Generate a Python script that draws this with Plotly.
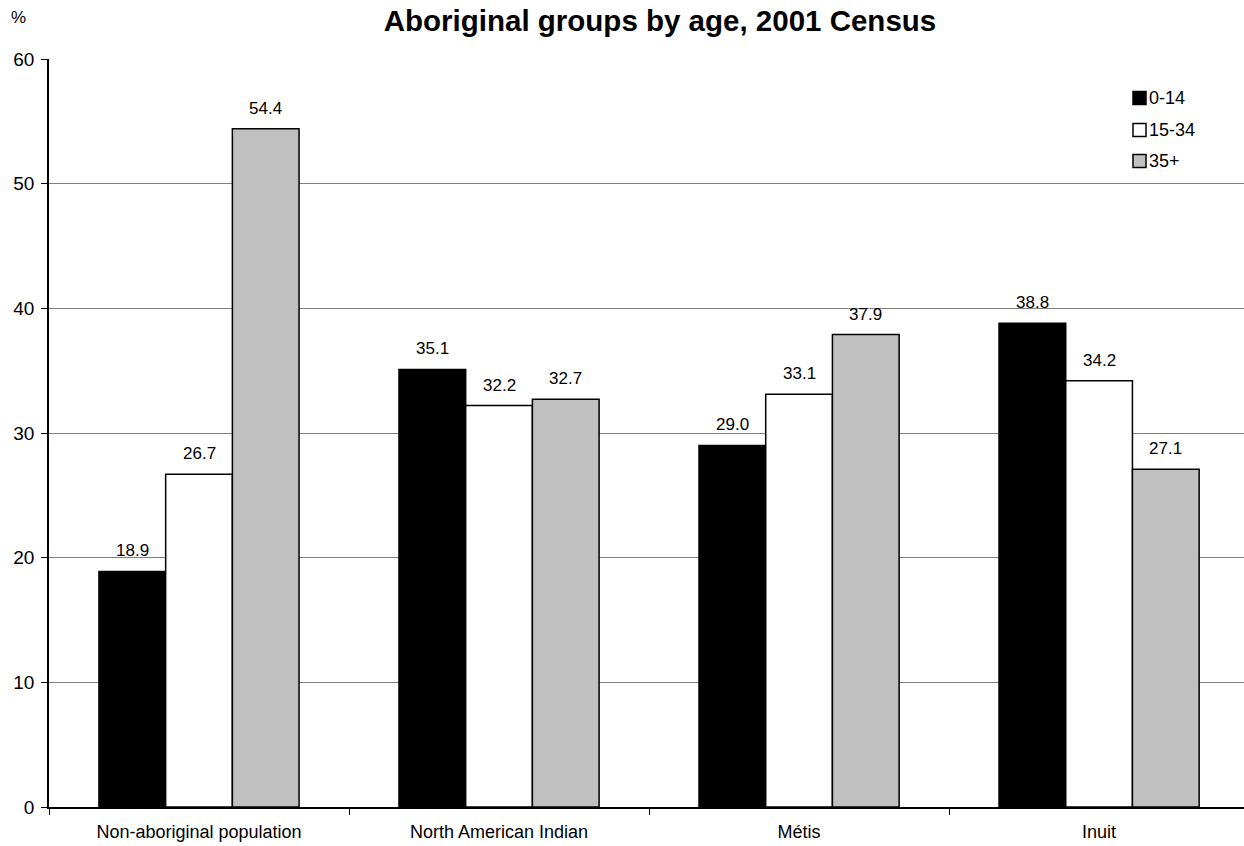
import plotly.graph_objects as go

groups = ["Non-aboriginal population", "North American Indian", "Métis", "Inuit"]
age_0_14 = [18.9, 35.1, 29.0, 38.8]
age_15_34 = [26.7, 32.2, 33.1, 34.2]
age_35_plus = [54.4, 32.7, 37.9, 27.1]
series_names = ["0-14", "15-34", "35+"]
series_colors = ["#000000", "#ffffff", "#c0c0c0"]
y_ticks = [0, 10, 20, 30, 40, 50, 60]

FONT = "Liberation Sans, Arial, sans-serif"
BARGAP = 0.333

# plot-area geometry (pixels) used for the hand-drawn legend
W, H = 1244, 846
ML, MR, MT, MB = 49, 0, 59, 39
PW, PH = W - ML - MR, H - MT - MB


def px_x(px):
    return (px - ML) / PW


def px_y(py):
    return (H - MB - py) / PH


series_values = [age_0_14, age_15_34, age_35_plus]

fig = go.Figure()
for name, vals, color in zip(series_names, series_values, series_colors):
    fig.add_trace(go.Bar(
        x=groups, y=vals, name=name,
        marker=dict(color=color, line=dict(color="#000000", width=1.5)),
        showlegend=False,
    ))

# value labels above each bar
bar_w = (1 - BARGAP) / len(series_values)
for j, vals in enumerate(series_values):
    offset = (j - (len(series_values) - 1) / 2) * bar_w
    for i, v in enumerate(vals):
        fig.add_annotation(
            x=i + offset, y=v, xref="x", yref="y",
            text=f"{v:.1f}", showarrow=False,
            xanchor="center", yanchor="bottom", yshift=9,
            font=dict(family=FONT, size=17, color="#000000"),
        )

# legend: small outlined squares with labels
legend_rows = [98, 130, 161]
for name, color, cy in zip(series_names, series_colors, legend_rows):
    fig.add_shape(
        type="rect", xref="paper", yref="paper",
        x0=px_x(1133), x1=px_x(1146), y0=px_y(cy + 6.5), y1=px_y(cy - 6.5),
        fillcolor=color, line=dict(color="#000000", width=1.5),
    )
    fig.add_annotation(
        text=name, xref="paper", yref="paper", x=px_x(1147), y=px_y(cy),
        xanchor="left", yanchor="middle", showarrow=False,
        font=dict(family=FONT, size=18, color="#000000"),
    )

fig.update_layout(
    width=W, height=H,
    margin=dict(l=ML, r=MR, t=MT, b=MB),
    barmode="group", bargap=BARGAP, bargroupgap=0,
    plot_bgcolor="white", paper_bgcolor="white",
    font=dict(family=FONT, size=18, color="#000000"),
    title=dict(text="<b>Aboriginal groups by age, 2001 Census</b>",
               x=660 / W, xanchor="center", y=1 - 21 / H, yanchor="middle",
               font=dict(family=FONT, size=29.5, color="#000000")),
    showlegend=False,
    xaxis=dict(range=[-0.5, 3.483], showline=True, linecolor="#000000", linewidth=1.5,
               ticks="outside", tickson="boundaries", ticklen=6, tickcolor="#000000",
               ticklabelstandoff=8,
               tickfont=dict(family=FONT, size=18), showgrid=False),
    yaxis=dict(range=[0, 60], tickvals=y_ticks, showline=True, linecolor="#000000",
               linewidth=1.5, ticks="outside", ticklen=6, tickcolor="#000000",
               ticklabelstandoff=3,
               showgrid=True, gridcolor="#808080", gridwidth=1,
               tickfont=dict(family=FONT, size=19), zeroline=False),
)
fig.add_annotation(text="%", xref="paper", yref="paper", x=px_x(9), y=px_y(17),
                   xanchor="left", yanchor="middle", showarrow=False,
                   font=dict(family=FONT, size=17, color="#000000"))

fig.write_html("out.html")
